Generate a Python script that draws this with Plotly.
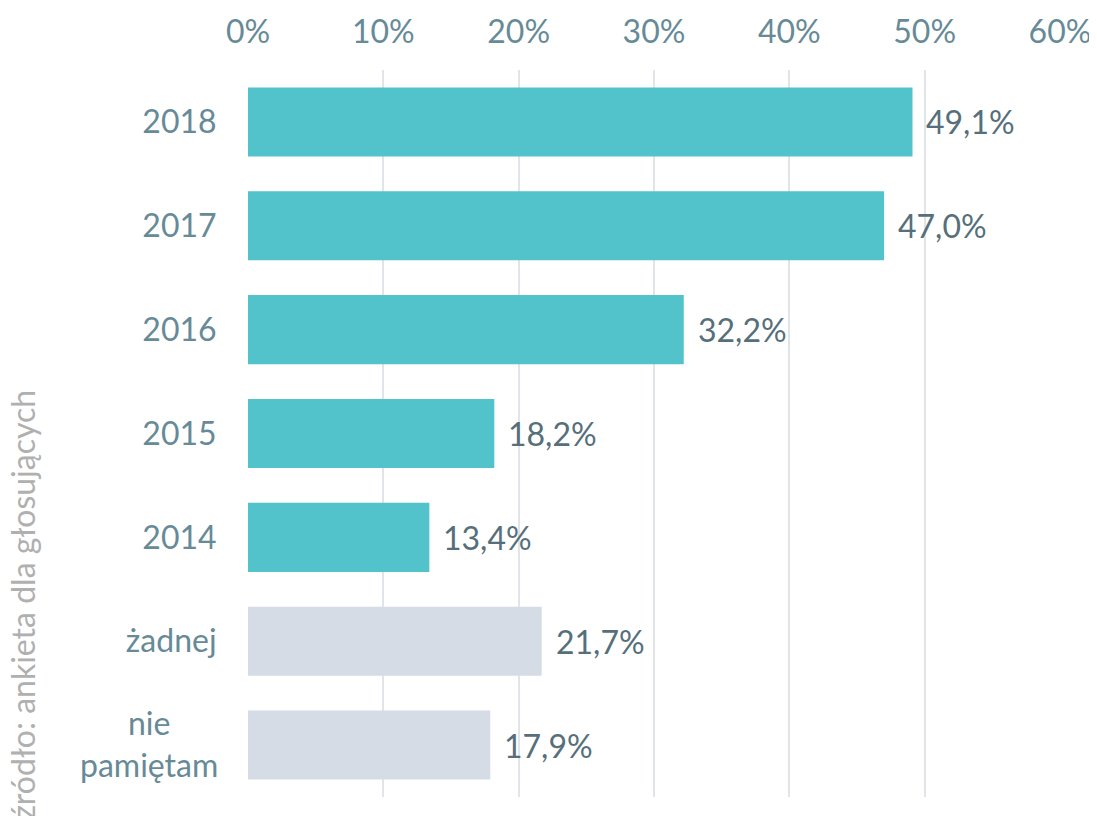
import plotly.graph_objects as go

categories = ["2018", "2017", "2016", "2015", "2014", "żadnej", "nie pamiętam"]
tick_labels = ["2018", "2017", "2016", "2015", "2014", "żadnej", ""]
multiline_label = "nie<br>pamiętam"
values = [49.1, 47.0, 32.2, 18.2, 13.4, 21.7, 17.9]
labels = ["49,1%", "47,0%", "32,2%", "18,2%", "13,4%", "21,7%", "17,9%"]
bar_colors = ["#52C3CA"] * 5 + ["#D5DCE6"] * 2
x_ticks = [0, 10, 20, 30, 40, 50, 60]
x_tick_text = ["0%", "10%", "20%", "30%", "40%", "50%", "60%"]
source = "źródło: ankieta dla głosujących"

FONT = "Lato"
FS = 32
TICK_COLOR = "#678A97"
LABEL_COLOR = "#566F7B"

idx = list(range(len(categories)))

fig = go.Figure(go.Bar(
    x=values, y=idx, orientation="h",
    marker=dict(color=bar_colors, line=dict(width=0)),
    hoverinfo="skip",
))

for i, (v, t) in enumerate(zip(values, labels)):
    fig.add_annotation(x=v, y=i, text=t, showarrow=False, xanchor="left",
                       xshift=12, font=dict(family=FONT, size=FS, color=LABEL_COLOR))

# centred two-line category label
fig.add_annotation(x=0, y=len(categories) - 1, text=multiline_label, showarrow=False,
                   xanchor="right", align="center", xshift=-28, yshift=2,
                   font=dict(family=FONT, size=FS, color=TICK_COLOR))

fig.add_annotation(x=-0.278, y=0.265, xref="paper", yref="paper", text=source,
                   textangle=-90, showarrow=False, xanchor="center", yanchor="middle",
                   font=dict(family=FONT, size=32, color="#B0B0B0"))

fig.update_layout(
    width=1097, height=816,
    margin=dict(l=240, r=45, t=62, b=27),
    paper_bgcolor="white", plot_bgcolor="white",
    bargap=0.335, showlegend=False,
    font=dict(family=FONT, size=FS, color=TICK_COLOR),
    xaxis=dict(side="top", range=[0, 60], tickvals=x_ticks, ticktext=x_tick_text,
               showgrid=True, gridcolor="#E1E5E9", gridwidth=2, zeroline=False,
               ticks="outside", ticklen=13, tickcolor="rgba(0,0,0,0)", automargin=False,
               tickfont=dict(family=FONT, size=FS, color=TICK_COLOR), fixedrange=True),
    yaxis=dict(range=[len(categories) - 0.5, -0.5], tickvals=idx, ticktext=tick_labels,
               showgrid=False, zeroline=False, automargin=False,
               ticks="outside", ticklen=24, tickcolor="rgba(0,0,0,0)",
               tickfont=dict(family=FONT, size=FS, color=TICK_COLOR), fixedrange=True),
)

fig.write_html("out.html")
